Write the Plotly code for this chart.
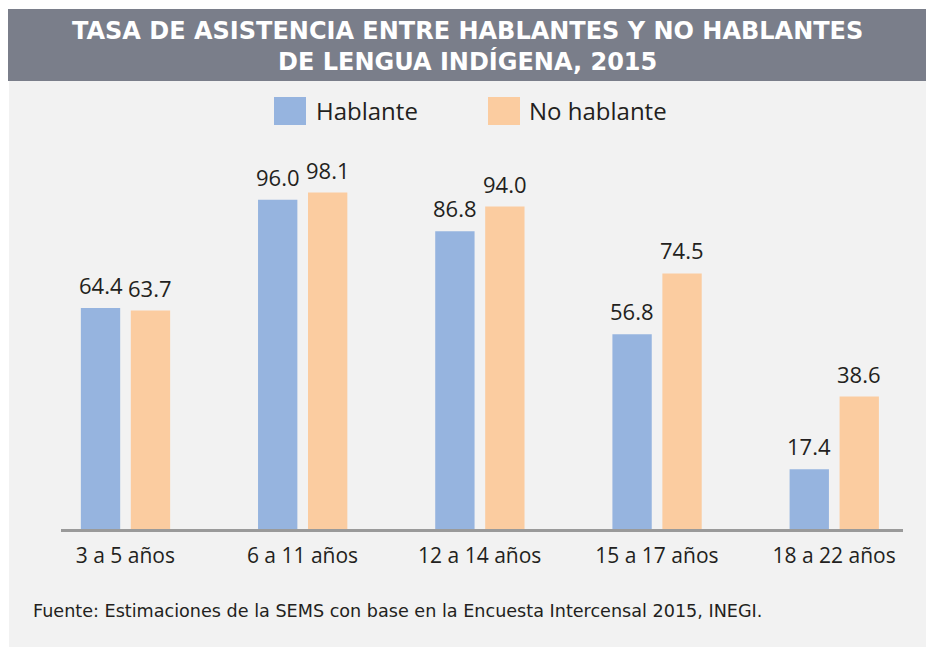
import plotly.graph_objects as go

categories = ["3 a 5 años", "6 a 11 años", "12 a 14 años", "15 a 17 años", "18 a 22 años"]
hablante = [64.4, 96.0, 86.8, 56.8, 17.4]
no_hablante = [63.7, 98.1, 94.0, 74.5, 38.6]
series_names = ["Hablante", "No hablante"]
title_lines = ["TASA DE ASISTENCIA ENTRE HABLANTES Y NO HABLANTES",
               "DE LENGUA INDÍGENA, 2015"]
source_text = "Fuente: Estimaciones de la SEMS con base en la Encuesta Intercensal 2015, INEGI."

# the page body adds an 8px margin; lay out in reference pixel coordinates minus that offset
OFF = 8
W, H = 934 - OFF, 647 - OFF
ML, MR, MT, MB = 61 - OFF, 934 - 903, 186 - OFF, 118
PW, PH = W - ML - MR, H - MT - MB

BLUE = "#96b4df"
ORANGE = "#fbcca0"
TXT = "#231f20"
FONT = "Open Sans"


def px(x):
    return (x - OFF - ML) / PW


def py(y):
    return (H - MB - (y - OFF)) / PH


fig = go.Figure()
bar_w = 0.222
off_h, off_n = -0.251, 0.031
cat_px = 177.2
fig.add_trace(go.Bar(x=categories, y=hablante, name=series_names[0], marker_color=BLUE,
                     width=bar_w, offset=off_h, marker_line_width=0, showlegend=False))
fig.add_trace(go.Bar(x=categories, y=no_hablante, name=series_names[1], marker_color=ORANGE,
                     width=bar_w, offset=off_n, marker_line_width=0, showlegend=False))

annotations = []
for vals, off in ((hablante, off_h), (no_hablante, off_n)):
    for cat, v in zip(categories, vals):
        annotations.append(dict(x=cat, y=v, xref="x", yref="y", text=f"{v:.1f}", showarrow=False,
                                xshift=(off + bar_w / 2) * cat_px, yanchor="bottom", yshift=6,
                                font=dict(family=FONT, size=22, color=TXT)))

# title
TFONT = dict(family="DejaVu Sans", size=24, color="white", weight="bold")
annotations.append(dict(x=px(467), y=py(46), xref="paper", yref="paper",
                        text="<br>".join(title_lines), align="center",
                        showarrow=False, xanchor="center", yanchor="middle", font=TFONT))
# legend
annotations.append(dict(x=px(314), y=py(111), xref="paper", yref="paper", text=series_names[0],
                        showarrow=False, xanchor="left", yanchor="middle",
                        font=dict(family=FONT, size=24, color=TXT)))
annotations.append(dict(x=px(527), y=py(111), xref="paper", yref="paper", text=series_names[1],
                        showarrow=False, xanchor="left", yanchor="middle",
                        font=dict(family=FONT, size=24, color=TXT)))
# source
annotations.append(dict(x=px(31), y=py(611), xref="paper", yref="paper", text=source_text,
                        showarrow=False, xanchor="left", yanchor="middle",
                        font=dict(family="DejaVu Sans", size=17.6, color=TXT)))

shapes = [
    dict(type="rect", xref="paper", yref="paper", x0=px(9), x1=px(940), y0=py(81), y1=py(660),
         fillcolor="#f2f2f2", line_width=0, layer="below"),
    dict(type="rect", xref="paper", yref="paper", x0=px(6), x1=px(940), y0=py(9), y1=py(81),
         fillcolor="#7a7e8a", line_width=0, layer="below"),
    dict(type="rect", xref="paper", yref="paper", x0=px(274), x1=px(306), y0=py(125), y1=py(97),
         fillcolor=BLUE, line_width=0),
    dict(type="rect", xref="paper", yref="paper", x0=px(488), x1=px(520), y0=py(125), y1=py(97),
         fillcolor=ORANGE, line_width=0),
]

fig.update_layout(
    width=W, height=H,
    margin=dict(l=ML, r=MR, t=MT, b=MB, pad=0),
    paper_bgcolor="white", plot_bgcolor="rgba(0,0,0,0)",
    showlegend=False,
    barmode="overlay",
    annotations=annotations, shapes=shapes,
    xaxis=dict(range=[-0.363, 4.389], showline=True, linecolor="#9a9a9a", linewidth=3,
               showgrid=False, zeroline=False, ticks="", fixedrange=True, ticklabelstandoff=6,
               tickfont=dict(family=FONT, size=21, color=TXT)),
    yaxis=dict(range=[0, 100], visible=False, showgrid=False, zeroline=False, fixedrange=True),
)

fig.write_html("out.html")
